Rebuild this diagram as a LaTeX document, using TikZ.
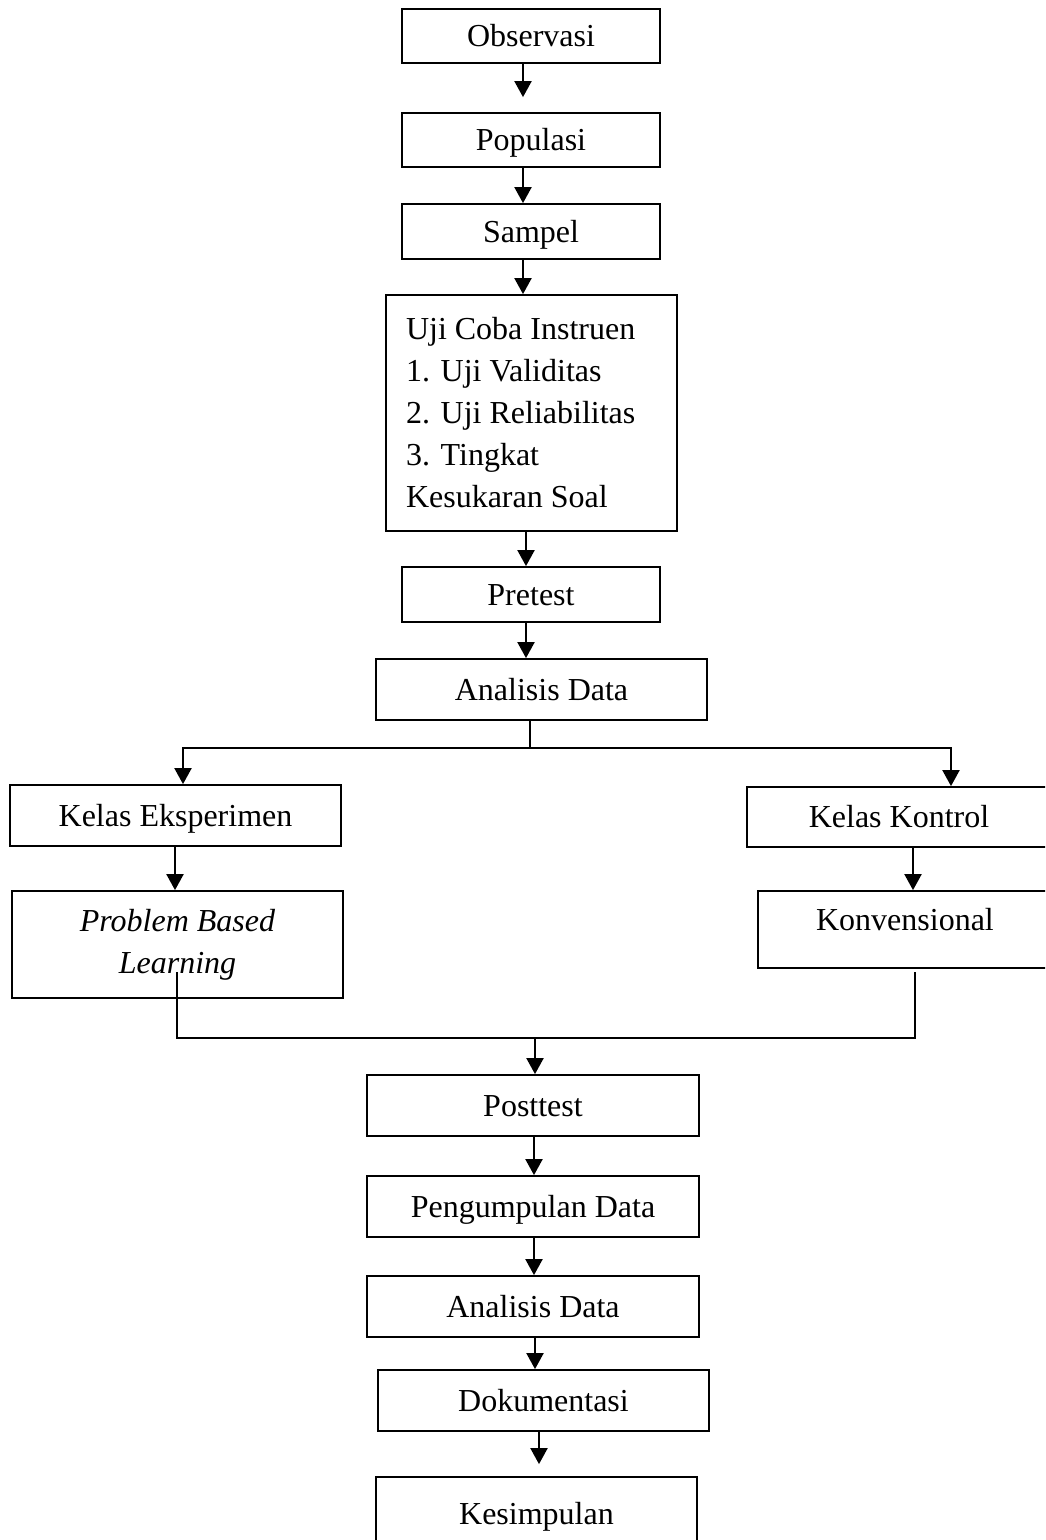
\documentclass[tikz,border=0pt]{standalone}
\usepackage{fontspec}
\setmainfont{Liberation Serif}
\usetikzlibrary{arrows.meta}
\begin{document}
\begin{tikzpicture}[x=1pt,y=-1pt,
  box/.style={draw=black,line width=1.8pt,rectangle,inner sep=0pt,
    font=\fontsize{32}{42}\selectfont,text height=21pt,text depth=0pt},
  arr/.style={line width=2pt,-{Triangle[width=17pt,length=16pt]}},
  conn/.style={line width=2pt}]
\useasboundingbox (0,0) rectangle (1045,1540);
\clip (0,0) rectangle (1045,1540);
% main column
\node[box,minimum width=258pt,minimum height=54pt] (obs) at (531,36) {Observasi};
\node[box,minimum width=258pt,minimum height=54pt] (pop) at (531,140) {Populasi};
\node[box,minimum width=258pt,minimum height=55pt] (sam) at (531,231.5) {Sampel};
\node[box,minimum width=291pt,minimum height=236pt,align=flush left,text width=251pt,
  text height=,text depth=] (uji) at (531.5,413)
  {Uji Coba Instruen\\1. Uji Validitas\\2. Uji Reliabilitas\\3. Tingkat\\Kesukaran Soal};
\node[box,minimum width=258pt,minimum height=55pt] (pre) at (531,594.5) {Pretest};
\node[box,minimum width=331pt,minimum height=61pt] (ana) at (541.5,689.5) {Analisis Data};
% branches
\node[box,minimum width=331pt,minimum height=61pt] (ke) at (175.5,815.5) {Kelas Eksperimen};
\node[box,minimum width=304pt,minimum height=60pt] (kk) at (899,817) {Kelas Kontrol};
\node[box,minimum width=331pt,minimum height=107pt,align=center,
  text height=,text depth=,font=\fontsize{32}{42}\selectfont\itshape] (pbl) at (177.5,944.5)
  {Problem Based\\Learning};
\node[box,minimum width=294pt,minimum height=77pt,text height=39pt,text depth=38pt] (konv) at (905,929.5) {Konvensional};
% lower column
\node[box,minimum width=332pt,minimum height=61pt] (post) at (533,1105.5) {Posttest};
\node[box,minimum width=332pt,minimum height=61pt] (peng) at (533,1206.5) {Pengumpulan Data};
\node[box,minimum width=332pt,minimum height=61pt] (ana2) at (533,1306.5) {Analisis Data};
\node[box,minimum width=331pt,minimum height=61pt] (dok) at (543.5,1400.5) {Dokumentasi};
\node[box,minimum width=321pt,minimum height=74pt] (kes) at (536.5,1514) {Kesimpulan};
% coordinates
\coordinate (split) at (530,748);
\coordinate (pblout) at (177,972);
\coordinate (konvout) at (915,972);
\coordinate (join) at (535,1038);
% connectors
\draw[arr,shorten >=15pt] ([xshift=-8pt]obs.south) -- ([xshift=-8pt]pop.north);
\draw[arr] ([xshift=-8pt]pop.south) -- ([xshift=-8pt]sam.north);
\draw[arr] ([xshift=-8pt]sam.south) -- ([xshift=-8.5pt]uji.north);
\draw[arr] ([xshift=-5.5pt]uji.south) -- ([xshift=-5pt]pre.north);
\draw[arr] ([xshift=-5pt]pre.south) -- ([xshift=-15.5pt]ana.north);
\draw[conn] (ana.south -| split) -- (split);
\draw[arr] (split) -| ([xshift=7.5pt]ke.north);
\draw[arr] (split) -| ([xshift=52pt]kk.north);
\draw[arr] ([xshift=-0.5pt]ke.south) -- ([xshift=-2.5pt]pbl.north);
\draw[arr] ([xshift=14pt]kk.south) -- ([xshift=8pt]konv.north);
\draw[conn] (pblout) |- (join) -| (konvout);
\draw[arr] (join) -- (join |- post.north);
\draw[arr] ([xshift=1pt]post.south) -- ([xshift=1pt]peng.north);
\draw[arr] ([xshift=1pt]peng.south) -- ([xshift=1pt]ana2.north);
\draw[arr] ([xshift=2pt]ana2.south) -- ([xshift=-8.5pt]dok.north);
\draw[arr,shorten >=12pt] ([xshift=-4.5pt]dok.south) -- ([xshift=2.5pt]kes.north);
\end{tikzpicture}
\end{document}
